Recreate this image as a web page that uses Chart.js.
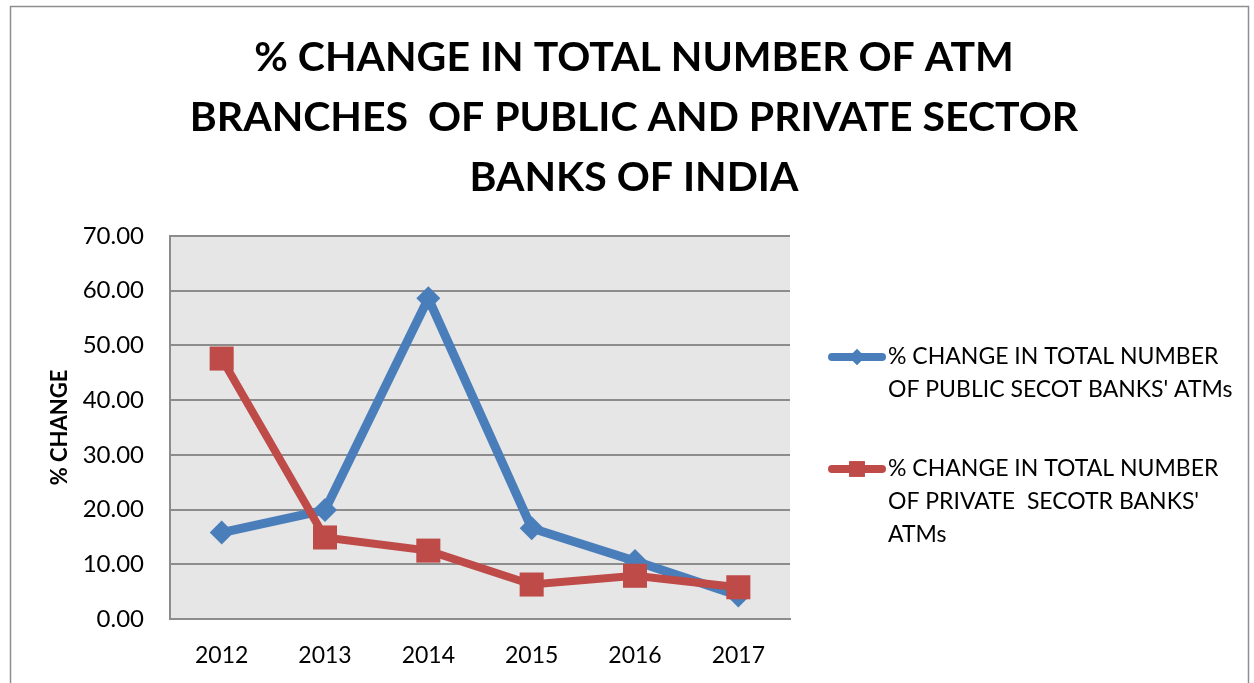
<!DOCTYPE html>
<html>
<head>
<meta charset="utf-8">
<title>ATM change</title>
<script src="https://cdn.jsdelivr.net/npm/chart.js@4.4.1/dist/chart.umd.min.js"></script>
<style>
  html, body { margin: 0; padding: 0; background: #ffffff; }
  #wrap { width: 1254px; height: 683px; position: relative; }
</style>
</head>
<body>
<div id="wrap"><canvas id="atmChart"></canvas></div>
<script>
const years = ['2012', '2013', '2014', '2015', '2016', '2017'];
const publicChange = [15.8, 19.9, 58.6, 16.6, 10.6, 4.3];
const privateChange = [47.6, 14.9, 12.5, 6.3, 7.9, 5.8];

const titleLines = [
  '% CHANGE IN TOTAL NUMBER OF ATM',
  'BRANCHES  OF PUBLIC AND PRIVATE SECTOR',
  'BANKS OF INDIA'
];
const publicLabel = ['% CHANGE IN TOTAL NUMBER', "OF PUBLIC SECOT BANKS' ATMs"];
const privateLabel = ['% CHANGE IN TOTAL NUMBER', 'OF PRIVATE  SECOTR BANKS\'', 'ATMs'];

const azul = '#4a7ebb';
const rojo = '#be4b48';
const gris = '#8c8c8c';

// fondo gris del area de trazado y marco exterior
const fondoPlugin = {
  id: 'fondo',
  beforeDraw(chart) {
    const ctx = chart.ctx;
    const a = chart.chartArea;
    ctx.save();
    ctx.fillStyle = '#ffffff';
    ctx.fillRect(0, 0, chart.width, chart.height);
    ctx.strokeStyle = '#8e8e8e';
    ctx.lineWidth = 1.5;
    ctx.strokeRect(10.5, 6.5, chart.width - 16, chart.height + 10);
    ctx.fillStyle = '#e6e6e6';
    ctx.fillRect(a.left, a.top, a.right - a.left, a.bottom - a.top);
    ctx.restore();
  }
};

// titulo y leyenda dibujados a mano
const textosPlugin = {
  id: 'textos',
  afterDraw(chart) {
    const ctx = chart.ctx;
    ctx.save();
    ctx.fillStyle = '#000000';
    ctx.textAlign = 'center';
    ctx.textBaseline = 'middle';
    ctx.font = 'bold 41px Lato';
    titleLines.forEach((t, i) => ctx.fillText(t, 634, 58 + i * 60));

    const items = [
      { color: azul, style: 'rectRot', radius: 8, lines: publicLabel, y: 357 },
      { color: rojo, style: 'rect', radius: 11, lines: privateLabel, y: 469 }
    ];
    items.forEach(it => {
      ctx.strokeStyle = it.color;
      ctx.lineWidth = 8;
      ctx.lineCap = 'round';
      ctx.beginPath();
      ctx.moveTo(832, it.y);
      ctx.lineTo(882, it.y);
      ctx.stroke();
      ctx.fillStyle = it.color;
      Chart.helpers.drawPoint(ctx, { pointStyle: it.style, radius: it.radius, rotation: 0, borderWidth: 0 }, 857, it.y);
      ctx.fill();
      ctx.fillStyle = '#000000';
      ctx.textAlign = 'left';
      ctx.font = '23px Lato';
      it.lines.forEach((l, i) => ctx.fillText(l, 888, it.y + i * 33));
    });
    ctx.restore();
  }
};

const ctx = document.getElementById('atmChart').getContext('2d');
const configuracion = {
  type: 'line',
  data: {
    labels: years,
    datasets: [{
      label: publicLabel.join(' '),
      data: publicChange,
      borderColor: azul,
      backgroundColor: azul,
      borderWidth: 9,
      pointStyle: 'rectRot',
      pointRadius: 12,
      pointHoverRadius: 12,
      pointBorderWidth: 0,
      order: 1
    }, {
      label: privateLabel.join(' '),
      data: privateChange,
      borderColor: rojo,
      backgroundColor: rojo,
      borderWidth: 8,
      pointStyle: 'rect',
      pointRadius: 17,
      pointHoverRadius: 17,
      pointBorderWidth: 0,
      order: 0
    }]
  },
  options: {
    responsive: true,
    maintainAspectRatio: false,
    animation: false,
    layout: {
      padding: { left: 0, top: 236, right: 464, bottom: 0 }
    },
    scales: {
      x: {
        offset: true,
        afterFit(scale) { scale.height = 64; },
        grid: { display: false },
        border: { display: true, color: gris, width: 2 },
        ticks: {
          color: '#000000',
          padding: 15,
          font: { family: 'Lato', size: 23 }
        }
      },
      y: {
        min: 0,
        max: 70,
        afterFit(scale) { scale.width = 170; },
        grid: { color: gris, lineWidth: 2, drawTicks: false },
        border: { display: true, color: gris, width: 2 },
        ticks: {
          stepSize: 10,
          color: '#000000',
          padding: 26,
          font: { family: 'Lato', size: 24 },
          callback: v => v.toFixed(2)
        },
        title: {
          display: true,
          text: '% CHANGE',
          color: '#000000',
          padding: { top: 47, bottom: 0 },
          font: { family: 'Lato', size: 22, weight: 'bold' }
        }
      }
    },
    plugins: {
      legend: { display: false },
      title: { display: false },
      tooltip: { enabled: false }
    }
  },
  plugins: [fondoPlugin, textosPlugin]
};
var atmChart = new Chart(ctx, configuracion);
</script>
</body>
</html>
